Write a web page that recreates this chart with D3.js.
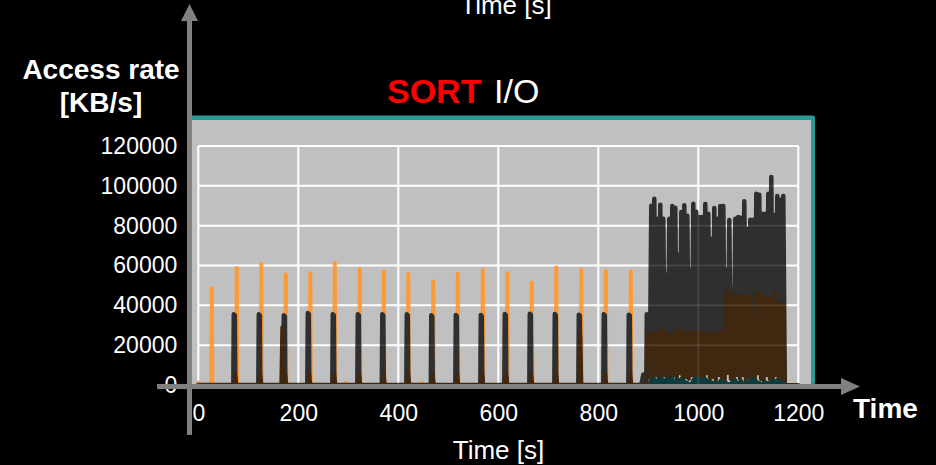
<!DOCTYPE html>
<html>
<head>
<meta charset="utf-8">
<script src="https://cdn.jsdelivr.net/npm/d3@7"></script>
<style>
  body { margin: 0; background: #000; }
  svg { display: block; }
  text { font-family: "Liberation Sans", Arial, sans-serif; fill: #fff; }
</style>
</head>
<body>
<div id="chart"></div>
<script>
(function() {
  // tick labels
  var xTicks = [0, 200, 400, 600, 800, 1000, 1200]
  var yTicks = [0, 20000, 40000, 60000, 80000, 100000, 120000]

  // [time s, rate KB/s]
  var orangeSeries = [
    [0, 1200], [4, 0], [26, 0], [27, 48700], [28, 0], [76, 0], [77, 58700], [78, 0],
    [125, 0], [126, 60600], [127, 0], [174, 0], [175, 55600], [176, 0],
    [223, 0], [224, 56100], [225, 0], [272, 0], [273, 61200], [274, 0],
    [293, 0], [295, 1000], [297, 0], [322, 0], [323, 58200], [324, 0],
    [370, 0], [371, 57100], [372, 0], [419, 0], [420, 55700], [421, 0],
    [445, 0], [447, 1000], [449, 0], [469, 0], [470, 52000], [471, 0],
    [518, 0], [519, 55700], [520, 0], [568, 0], [569, 57900], [570, 0],
    [617, 0], [618, 56100], [619, 0], [666, 0], [667, 51500], [668, 0],
    [715, 0], [716, 59100], [717, 0], [765, 0], [766, 57900], [767, 0],
    [814, 0], [815, 57100], [816, 0], [864, 0], [865, 57100], [866, 0], [880, 0]
  ]

  var greyLead = [
    [0, 0],
    [70, 0], [71, 35500], [73, 35000], [74, 0],
    [120, 0], [121, 35500], [123, 35000], [124, 0],
    [170, 0], [171, 35000], [173, 34500], [174, 0],
    [218, 0], [219, 36100], [221, 35600], [222, 0],
    [268, 0], [269, 35500], [271, 35000], [272, 0],
    [318, 0], [319, 35500], [321, 35000], [322, 0],
    [367, 0], [368, 35500], [370, 35000], [371, 0],
    [416, 0], [417, 35500], [419, 35000], [420, 0],
    [465, 0], [466, 35000], [468, 34500], [469, 0],
    [514, 0], [515, 35100], [517, 34600], [518, 0],
    [564, 0], [565, 35100], [567, 34600], [568, 0],
    [612, 0], [613, 35600], [615, 35100], [616, 0],
    [662, 0], [663, 35800], [665, 35300], [666, 0],
    [712, 0], [713, 35600], [715, 35100], [716, 0],
    [760, 0], [761, 35300], [763, 34800], [764, 0],
    [810, 0], [811, 35500], [813, 35000], [814, 0],
    [860, 0], [861, 35300], [863, 34800], [864, 0],
    [886, 0], [890, 5200], [893, 0], [896, 0], [897, 35500], [899, 35000], [901, 4000]
  ]

  var brownLead = [
    [0, 0],
    [72, 0], [74, 5000], [76, 0],
    [122, 0], [124, 5000], [126, 0],
    [166, 0], [168, 29000], [169, 0], [172, 0], [174, 5000], [176, 0],
    [220, 0], [222, 5000], [224, 0],
    [270, 0], [272, 5000], [274, 0],
    [320, 0], [322, 5000], [324, 0],
    [369, 0], [371, 5000], [373, 0],
    [418, 0], [420, 5000], [422, 0],
    [467, 0], [469, 5000], [471, 0],
    [516, 0], [518, 5000], [520, 0],
    [566, 0], [568, 5000], [570, 0],
    [614, 0], [616, 5000], [618, 0],
    [664, 0], [666, 5000], [668, 0],
    [714, 0], [716, 5000], [718, 0],
    [762, 0], [764, 24900], [766, 0],
    [812, 0], [814, 5000], [816, 0],
    [862, 0], [864, 5000], [866, 0],
    [896, 0], [899, 25000]
  ]
  var brownTail = [[1175, 0], [1200, 0]]

  // the busy phase at the end of the run
  var denseTimes = [903, 906, 909, 912, 915, 918, 921, 924, 927, 930, 933, 936, 939, 942, 945,
    948, 951, 954, 957, 960, 963, 966, 969, 972, 975, 978, 981, 984, 987, 990, 993, 996, 999,
    1002, 1005, 1008, 1011, 1014, 1017, 1020, 1023, 1026, 1029, 1032, 1035, 1038, 1041, 1044,
    1047, 1050, 1053, 1056, 1059, 1062, 1065, 1068, 1071, 1074, 1077, 1080, 1083, 1086, 1089,
    1092, 1095, 1098, 1101, 1104, 1107, 1110, 1113, 1116, 1119, 1122, 1125, 1128, 1131, 1134,
    1137, 1140, 1143, 1146, 1149, 1152, 1155, 1158, 1161, 1164, 1167, 1170, 1173]

  var greyDense = [4000, 90000, 6000, 93500, 5000, 83500, 7000, 90500, 6000, 83500, 5000, 55200,
    8000, 83500, 6000, 89900, 5000, 89000, 7000, 65400, 6000, 86800, 5000, 90200, 8000, 85000,
    6000, 57700, 5000, 91000, 7000, 87000, 6000, 84300, 5000, 84300, 7000, 90900, 6000, 86000,
    8000, 73400, 5000, 88900, 6000, 83500, 7000, 89900, 5000, 89900, 6000, 57700, 8000, 82800,
    6000, 48300, 5000, 83500, 7000, 84300, 6000, 84000, 5000, 92200, 7000, 78500, 6000, 83000,
    8000, 83000, 5000, 96000, 6000, 95500, 7000, 86000, 5000, 86000, 6000, 96000, 8000, 104400,
    6000, 85300, 5000, 94900, 7000, 93000, 6000, 94900, 0]

  var brownDense = [25000, 25700, 3000, 25700, 6000, 25700, 2000, 27500, 4000, 27500, 7000, 26000,
    3000, 25000, 2000, 25500, 5000, 27500, 3000, 27500, 6000, 27000, 2000, 26000, 4000, 25500,
    3000, 26000, 6000, 27000, 2000, 26500, 5000, 26000, 3000, 26000, 2000, 25500, 6000, 25500,
    3000, 26000, 4000, 25500, 2000, 26000, 5000, 26600, 3000, 26600, 2000, 46700, 6000, 46700,
    3000, 42500, 2000, 45000, 5000, 45000, 3000, 44200, 7000, 44200, 2000, 44200, 4000, 44000,
    3000, 30100, 2000, 45800, 6000, 45800, 3000, 44200, 2000, 43300, 5000, 43300, 3000, 43300,
    2000, 45800, 6000, 40800, 3000, 40800, 2000, 40800, 0]

  var tealDense = [0, 2500, 500, 3000, 0, 2000, 800, 3500, 500, 2500, 0, 3000, 1000, 2000, 500,
    3500, 0, 1500, 500, 2500, 1000, 3000, 0, 2000, 500, 1000, 0, 500, 0, 2500, 1000, 3500, 500,
    3000, 0, 2500, 500, 3000, 1000, 2000, 0, 1500, 500, 1000, 0, 500, 0, 2000, 500, 1500, 0,
    1000, 0, 500, 0, 1500, 500, 2500, 0, 1000, 500, 2000, 0, 500, 0, 1500, 500, 2500, 1000, 3000,
    500, 2000, 0, 1000, 500, 500, 0, 1500, 0, 1000, 500, 1500, 0, 2000, 500, 2500, 1000, 1500,
    0, 1000, 0]

  var W = 936, H = 465

  var svg = d3.select('#chart')
    .append('svg')
    .attr('width', W)
    .attr('height', H)

  svg.append('rect').attr('width', W).attr('height', H).attr('fill', '#000')

  var x = d3.scaleLinear().domain([0, 1200]).range([198.3, 798.3])
  var y = d3.scaleLinear().domain([0, 120000]).range([385, 146])

  // panel with teal edge
  svg.append('rect')
    .attr('x', 190).attr('y', 115.5).attr('width', 625).attr('height', 269)
    .attr('rx', 2.5).attr('fill', '#2a9b97')
  svg.append('rect')
    .attr('x', 192).attr('y', 120).attr('width', 619).attr('height', 266)
    .attr('fill', '#c0c0c0')

  function grid(g, color, opacity) {
    g.selectAll('.gx').data(xTicks).enter().append('line')
      .attr('x1', d => x(d)).attr('x2', d => x(d))
      .attr('y1', y(120000)).attr('y2', y(0))
      .attr('stroke', color).attr('stroke-opacity', opacity).attr('stroke-width', 2)
    g.selectAll('.gy').data(yTicks).enter().append('line')
      .attr('x1', x(0)).attr('x2', x(1200))
      .attr('y1', d => y(d)).attr('y2', d => y(d))
      .attr('stroke', color).attr('stroke-opacity', opacity).attr('stroke-width', 2)
  }
  grid(svg.append('g'), '#fff', 1)

  var line = d3.line()
    .x(d => x(d[0]))
    .y(d => y(d[1]))

  function dense(values) {
    return denseTimes.map((t, i) => [t, values[i]])
  }

  var series = [
    { pts: orangeSeries, color: '#fd9a36', w: 4 },
    { pts: greyLead.concat(dense(greyDense)), color: '#2f2f2f', w: 4.5 },
    { pts: brownLead.concat(dense(brownDense), brownTail), color: '#3f2710', w: 4 },
    { pts: [[900, 0]].concat(dense(tealDense)), color: '#0e3c3c', w: 4 }
  ]

  svg.append('g').selectAll('path')
    .data(series)
    .enter().append('path')
    .attr('d', d => line(d.pts))
    .attr('fill', 'none')
    .attr('stroke', d => d.color)
    .attr('stroke-width', d => d.w)
    .attr('stroke-linejoin', 'round')
    .attr('stroke-linecap', 'round')

  // grid faintly shows through the busy block
  grid(svg.append('g'), '#fff', 0.1)

  // tick labels
  var yAxis = d3.axisLeft(y).tickValues(yTicks).tickSize(0).tickPadding(21).tickFormat(d => d)
  svg.append('g')
    .attr('transform', 'translate(' + x(0) + ',0)')
    .call(yAxis)
    .call(g => g.select('.domain').remove())
    .selectAll('text')
    .attr('fill', '#fff')
    .style('font-size', '23px')
    .style('font-family', '"Liberation Sans", Arial, sans-serif')

  var xAxis = d3.axisBottom(x).tickValues(xTicks).tickSize(0).tickPadding(20).tickFormat(d => d)
  svg.append('g')
    .attr('transform', 'translate(0,' + y(0) + ')')
    .call(xAxis)
    .call(g => g.select('.domain').remove())
    .selectAll('text')
    .attr('fill', '#fff')
    .style('font-size', '23px')
    .style('font-family', '"Liberation Sans", Arial, sans-serif')

  // arrows
  var axisGrey = '#808080'
  svg.append('rect').attr('x', 187).attr('y', 18).attr('width', 5).attr('height', 417).attr('fill', axisGrey)
  svg.append('path').attr('d', 'M181,21 L189.5,4 L198,21 Z').attr('fill', axisGrey)
  svg.append('rect').attr('x', 157).attr('y', 384).attr('width', 686).attr('height', 5).attr('fill', axisGrey)
  svg.append('path').attr('d', 'M841,378 L860,386.5 L841,395 Z').attr('fill', axisGrey)

  // texts
  svg.append('text').attr('x', 101).attr('y', 79).attr('text-anchor', 'middle')
    .style('font-size', '28px').style('font-weight', 'bold').text('Access rate')
  svg.append('text').attr('x', 101).attr('y', 112).attr('text-anchor', 'middle')
    .style('font-size', '28px').style('font-weight', 'bold').text('[KB/s]')

  svg.append('text').attr('x', 387).attr('y', 103)
    .style('font-size', '34px').style('font-weight', 'bold').attr('fill', '#ff0000')
    .style('fill', '#ff0000').text('SORT')
  svg.append('text').attr('x', 494).attr('y', 103)
    .style('font-size', '34px').text('I/O')

  svg.append('text').attr('x', 853).attr('y', 418)
    .style('font-size', '28px').style('font-weight', 'bold').text('Time')

  svg.append('text').attr('x', 498.5).attr('y', 459).attr('text-anchor', 'middle')
    .style('font-size', '26px').text('Time [s]')
  svg.append('text').attr('x', 506).attr('y', 14).attr('text-anchor', 'middle')
    .style('font-size', '26px').text('Time [s]')
})()
</script>
</body>
</html>
